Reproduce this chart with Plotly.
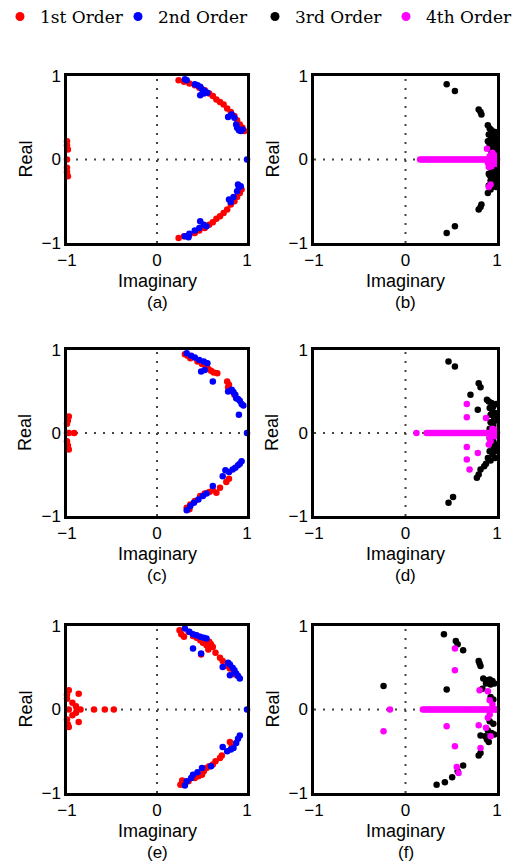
import plotly.graph_objects as go

# ---------------- data (Imaginary = x, Real = y) ----------------
series_names = ["1st Order", "2nd Order", "3rd Order", "4th Order"]
series_colors = ["#ff0000", "#0000ff", "#000000", "#ff00ff"]
panel_labels = ["(a)", "(b)", "(c)", "(d)", "(e)", "(f)"]
tick_vals = [-1, 0, 1]

# panel (a)
a_red_x = [0.24, 0.30, 0.36, 0.42, 0.47, 0.53, 0.58, 0.62, 0.66, 0.70, 0.74, 0.78, 0.82, 0.86, 0.89, 0.92, 0.95, 0.97,
           -1.0, -1.0, -0.99, -1.0, -1.0, -1.0, -0.99,
           0.24, 0.30, 0.36, 0.42, 0.47, 0.53, 0.58, 0.62, 0.66, 0.70, 0.74, 0.78, 0.82, 0.86, 0.89, 0.92, 0.94]
a_red_y = [0.95, 0.93, 0.91, 0.89, 0.86, 0.83, 0.79, 0.76, 0.72, 0.69, 0.66, 0.61, 0.57, 0.52, 0.47, 0.42, 0.38, 0.34,
           0.22, 0.17, 0.12, 0.0, -0.10, -0.15, -0.20,
           -0.94, -0.92, -0.90, -0.88, -0.85, -0.82, -0.78, -0.75, -0.71, -0.68, -0.64, -0.60, -0.54, -0.50, -0.45, -0.40, -0.36]
a_blue_x = [0.31, 0.33, 0.42, 0.45, 0.48, 0.50, 0.53, 0.56, 0.48, 0.52, 0.79, 0.83, 0.86, 0.88, 0.89, 0.91, 0.93, 0.95, 1.0,
            0.90, 0.91, 0.93, 0.89, 0.85, 0.80, 0.82, 0.55, 0.52, 0.48, 0.47, 0.42, 0.36, 0.31, 0.35]
a_blue_y = [0.96, 0.95, 0.90, 0.89, 0.87, 0.84, 0.82, 0.80, 0.77, 0.79, 0.51, 0.54, 0.50, 0.42, 0.38, 0.35, 0.34, 0.36, 0.0,
            -0.30, -0.33, -0.32, -0.38, -0.45, -0.48, -0.51, -0.80, -0.78, -0.74, -0.82, -0.85, -0.89, -0.92, -0.93]

# panel (b)
b_black_x = [0.45, 0.54, 0.80, 0.82, 0.83, 0.90, 0.92, 0.94, 0.96, 0.91, 0.95, 0.93, 0.97, 0.92, 0.96, 0.94, 0.97, 0.93,
             0.98, 0.99, 0.98, 0.90, 0.99, 0.97, 0.99, 0.98, 0.91, 0.99, 0.98,
             0.93, 0.97, 0.94, 0.96, 0.92, 0.97, 0.93, 0.95, 0.91, 0.96, 0.93, 0.90, 0.83, 0.82, 0.80, 0.54, 0.45]
b_black_y = [0.90, 0.82, 0.60, 0.57, 0.54, 0.41, 0.37, 0.35, 0.31, 0.30, 0.27, 0.24, 0.22, 0.18, 0.15, 0.10, 0.07, 0.04,
             0.33, 0.26, 0.19, 0.22, 0.12, -0.12, -0.18, -0.26, -0.17, -0.33, -0.08,
             -0.04, -0.07, -0.11, -0.15, -0.19, -0.22, -0.25, -0.28, -0.31, -0.32, -0.36, -0.40, -0.54, -0.57, -0.60, -0.80, -0.88]
b_mag_x = [0.16, 0.18, 0.20, 0.22, 0.24, 0.26, 0.28, 0.30, 0.32, 0.34, 0.36, 0.38, 0.40, 0.42, 0.44, 0.46, 0.48, 0.50,
           0.52, 0.54, 0.56, 0.58, 0.60, 0.62, 0.64, 0.66, 0.68, 0.70, 0.72, 0.74, 0.76, 0.78, 0.80, 0.82, 0.84,
           0.86, 0.88, 0.90, 0.92, 0.94, 0.96, 0.98, 1.0,
           0.92, 0.96, 0.98, 0.90, 0.89, 0.91, 0.93, 0.91, 0.94, 0.97, 0.95, 0.99]
b_mag_y = [0.0] * 43 + [0.04, 0.03, -0.03, -0.04, 0.13, -0.09, -0.30, -0.33, -0.08, 0.05, 0.08, -0.05]

# panel (c)
c_red_x = [-0.98, -0.99, -1.0, -1.0, -0.98, -0.92, -1.0, -0.99, -0.98,
           0.31, 0.34, 0.37, 0.45, 0.50, 0.55, 0.57, 0.60, 0.63, 0.67, 0.78, 0.80, 0.79, 0.84, 0.86,
           0.77, 0.80, 0.70, 0.66, 0.62, 0.58, 0.53, 0.48, 0.42, 0.37, 0.33, 0.36]
c_red_y = [0.20, 0.15, 0.11, 0.0, 0.0, 0.0, -0.10, -0.15, -0.20,
           0.95, 0.93, 0.90, 0.86, 0.83, 0.79, 0.77, 0.75, 0.73, 0.72, 0.62, 0.58, 0.55, 0.50, 0.46,
           -0.59, -0.55, -0.66, -0.72, -0.69, -0.71, -0.73, -0.76, -0.82, -0.86, -0.90, -0.92]
c_blue_x = [0.33, 0.38, 0.42, 0.47, 0.52, 0.56, 0.49, 0.53, 0.62, 0.79, 0.83, 0.85, 0.87, 0.88, 0.90, 0.92, 0.94, 0.96, 0.91, 1.0,
            0.94, 0.92, 0.90, 0.87, 0.84, 0.80, 0.76, 0.73, 0.62, 0.55, 0.51, 0.46, 0.41, 0.37, 0.33]
c_blue_y = [0.96, 0.93, 0.91, 0.88, 0.86, 0.84, 0.74, 0.76, 0.62, 0.50, 0.52, 0.49, 0.46, 0.42, 0.41, 0.39, 0.35, 0.33, 0.22, 0.0,
            -0.34, -0.37, -0.39, -0.42, -0.44, -0.47, -0.45, -0.52, -0.64, -0.73, -0.76, -0.80, -0.84, -0.88, -0.93]

# panel (d)
d_black_x = [0.47, 0.54, 0.80, 0.82, 0.71, 0.79, 0.89, 0.91, 0.94, 0.96, 0.92, 0.95, 0.93, 0.97, 0.93, 0.96, 0.92,
             0.99, 0.98, 0.99, 0.98, 0.99, 0.98,
             0.92, 0.96, 0.93, 0.97, 0.92, 0.95, 0.90, 0.93, 0.88, 0.86, 0.82, 0.80, 0.78, 0.52, 0.47]
d_black_y = [0.86, 0.80, 0.60, 0.55, 0.46, 0.28, 0.40, 0.38, 0.36, 0.32, 0.30, 0.26, 0.22, 0.18, 0.13, 0.09, 0.05,
             0.35, 0.24, 0.15, -0.14, -0.22, -0.30,
             -0.06, -0.10, -0.14, -0.18, -0.22, -0.26, -0.30, -0.33, -0.37, -0.40, -0.44, -0.50, -0.54, -0.77, -0.84]
d_mag_x = [0.67, 0.67, 0.88, 0.12, 0.67, 0.79, 0.67, 0.70, 0.91, 0.93, 0.95, 0.92, 0.97, 0.98,
           0.23, 0.25, 0.27, 0.29, 0.31, 0.33, 0.35, 0.37, 0.39, 0.41, 0.43, 0.45, 0.47, 0.49, 0.51, 0.53,
           0.55, 0.57, 0.59, 0.61, 0.63, 0.65, 0.67, 0.69, 0.71, 0.73, 0.75, 0.77, 0.79, 0.81, 0.83, 0.85,
           0.87, 0.89, 0.91, 0.93, 0.95, 0.97, 0.99, 1.0]
d_mag_y = [0.35, 0.19, 0.18, 0.0, -0.17, -0.24, -0.32, -0.44, -0.14, -0.10, 0.05, -0.05, 0.04, -0.04] + [0.0] * 40

# panel (e)
e_red_x = [-0.98, -1.0, -0.87, -1.0, -0.94, -0.90, -0.98, -0.89, -0.85, -0.70, -0.58, -0.48, -0.94, -0.90, -1.0, -0.87, -0.99, -0.98,
           0.25, 0.27, 0.30, 0.35, 0.40, 0.44, 0.48, 0.51, 0.55, 0.58, 0.60, 0.62, 0.57, 0.49, 0.65, 0.70, 0.73, 0.78, 0.81, 0.85, 0.87,
           0.81, 0.83, 0.72, 0.70, 0.65, 0.62, 0.58, 0.55, 0.52, 0.50, 0.46, 0.42, 0.35, 0.30, 0.26, 0.28]
e_red_y = [0.23, 0.18, 0.19, 0.13, 0.08, 0.04, 0.0, 0.0, 0.0, 0.0, 0.0, 0.0, -0.07, -0.04, -0.12, -0.15, -0.18, -0.21,
           0.95, 0.90, 0.87, 0.93, 0.88, 0.86, 0.83, 0.80, 0.77, 0.81, 0.78, 0.75, 0.72, 0.66, 0.68, 0.62, 0.58, 0.52, 0.49, 0.45, 0.42,
           -0.39, -0.45, -0.55, -0.58, -0.62, -0.66, -0.68, -0.70, -0.74, -0.78, -0.80, -0.82, -0.86, -0.88, -0.90, -0.85]
e_blue_x = [0.31, 0.36, 0.40, 0.44, 0.48, 0.52, 0.55, 0.40, 0.49, 0.73, 0.79, 0.81, 0.84, 0.86, 0.88, 0.90, 0.92, 0.81, 1.0,
            0.92, 0.90, 0.88, 0.85, 0.82, 0.73, 0.78, 0.60, 0.50, 0.45, 0.40, 0.38, 0.33, 0.31]
e_blue_y = [0.97, 0.93, 0.90, 0.89, 0.87, 0.86, 0.85, 0.73, 0.67, 0.51, 0.56, 0.54, 0.50, 0.47, 0.43, 0.40, 0.37, 0.41, 0.0,
            -0.31, -0.35, -0.40, -0.46, -0.48, -0.45, -0.50, -0.68, -0.70, -0.75, -0.78, -0.82, -0.86, -0.91]

# panel (f)
f_black_x = [0.42, 0.55, 0.57, 0.63, 0.80, 0.81, 0.82, 0.45, -0.24, 0.85, 0.88, 0.92, 0.95, 0.88, 0.93, 0.97, 0.84, 0.93, 0.96,
             0.92, 0.96, 0.90, 0.94, 0.97, 0.87, 0.82, 0.89, 0.91, 0.82, 0.80, 0.63, 0.57, 0.51, 0.43, 0.34]
f_black_y = [0.90, 0.82, 0.78, 0.71, 0.58, 0.55, 0.52, 0.24, 0.28, 0.37, 0.35, 0.36, 0.34, 0.31, 0.30, 0.31, 0.25, 0.15, 0.12,
             -0.14, -0.17, -0.25, -0.28, -0.30, -0.32, -0.31, -0.36, -0.39, -0.52, -0.55, -0.67, -0.74, -0.81, -0.87, -0.90]
f_mag_x = [0.54, 0.54, 0.81, 0.90, 0.92, 0.95, -0.17, -0.24, 0.45, 0.54, 0.56, 0.58, 0.80, 0.82, 0.90, 0.92, 0.93, 0.88,
           0.19, 0.21, 0.23, 0.25, 0.27, 0.29, 0.31, 0.33, 0.35, 0.37, 0.39, 0.41, 0.43, 0.45, 0.47, 0.49, 0.51,
           0.53, 0.55, 0.57, 0.59, 0.61, 0.63, 0.65, 0.67, 0.69, 0.71, 0.73, 0.75, 0.77, 0.79, 0.81, 0.83, 0.85,
           0.87, 0.89, 0.91, 0.93, 0.95, 0.97, 0.99, 1.0]
f_mag_y = [0.73, 0.47, 0.23, 0.22, 0.11, 0.06, 0.0, -0.26, -0.20, -0.44, -0.69, -0.76, -0.19, -0.46, -0.10, -0.06, -0.32, -0.22] + [0.0] * 42

panels = [
    [("1st Order", a_red_x, a_red_y), ("2nd Order", a_blue_x, a_blue_y)],
    [("3rd Order", b_black_x, b_black_y), ("4th Order", b_mag_x, b_mag_y)],
    [("1st Order", c_red_x, c_red_y), ("2nd Order", c_blue_x, c_blue_y)],
    [("3rd Order", d_black_x, d_black_y), ("4th Order", d_mag_x, d_mag_y)],
    [("1st Order", e_red_x, e_red_y), ("2nd Order", e_blue_x, e_blue_y)],
    [("3rd Order", f_black_x, f_black_y), ("4th Order", f_mag_x, f_mag_y)],
]

# ---------------- layout geometry (pixels) ----------------
W, H = 517, 866
cols = [(67, 247), (314, 497)]
rows = [(76, 243), (350, 516), (626, 793)]
legend_px = [0, 118, 255, 386]
color_of = dict(zip(series_names, series_colors))

fig = go.Figure()
layout = dict(width=W, height=H, margin=dict(l=0, r=0, t=0, b=0, autoexpand=False),
              paper_bgcolor="white", plot_bgcolor="white", showlegend=True)
shapes, annotations = [], []
sans = "Liberation Sans, Arial, sans-serif"

for i, traces in enumerate(panels):
    r, c = divmod(i, 2)
    (xl, xr), (yt, yb) = cols[c], rows[r]
    n = "" if i == 0 else str(i + 1)
    xa, ya = "x" + n, "y" + n
    axcommon = dict(range=[-1, 1], tickvals=tick_vals, showgrid=False, zeroline=False,
                    showline=True, mirror=True, linecolor="black", linewidth=2.5,
                    ticks="", tickfont=dict(family=sans, size=17, color="black"), fixedrange=True)
    layout["xaxis" + n] = dict(axcommon, domain=[xl / W, xr / W], anchor=ya)
    layout["yaxis" + n] = dict(axcommon, domain=[1 - yb / H, 1 - yt / H], anchor=xa)
    for name, xs, ys in traces:
        fig.add_trace(go.Scatter(x=xs, y=ys, mode="markers", name=name, showlegend=False,
                                 marker=dict(size=6.5, color=color_of[name]),
                                 cliponaxis=False, xaxis=xa, yaxis=ya))
    dot = dict(color="#444444", width=2, dash="2px,7px")
    shapes.append(dict(type="line", xref=xa, yref=ya, x0=0, x1=0, y0=-1, y1=1, line=dot, layer="below"))
    shapes.append(dict(type="line", xref=xa, yref=ya, x0=-1, x1=1, y0=0, y1=0, line=dot, layer="below"))
    xc = (xl + xr) / 2 / W
    annotations.append(dict(text="Imaginary", xref="paper", yref="paper", x=xc, y=1 - (yb + 38) / H,
                            showarrow=False, font=dict(family=sans, size=18, color="black"),
                            xanchor="center", yanchor="middle"))
    annotations.append(dict(text=panel_labels[i], xref="paper", yref="paper", x=xc, y=1 - (yb + 59) / H,
                            showarrow=False, font=dict(family=sans, size=17, color="black"),
                            xanchor="center", yanchor="middle"))
    annotations.append(dict(text="Real", xref="paper", yref="paper", x=(xl - 42) / W, y=1 - (yt + yb) / 2 / H,
                            showarrow=False, textangle=-90, font=dict(family=sans, size=18, color="black"),
                            xanchor="center", yanchor="middle"))

# legend entries, one small legend per series so each sits where the reference puts it
for k, (name, col) in enumerate(zip(series_names, series_colors)):
    lid = "legend" if k == 0 else "legend%d" % (k + 1)
    fig.add_trace(go.Scatter(x=[None], y=[None], mode="markers", name=name, legend=lid,
                             marker=dict(size=9, color=col), showlegend=True))
    layout[lid] = dict(orientation="h", x=legend_px[k] / W, xanchor="left", y=1 - 17 / H, yanchor="middle",
                       font=dict(family="DejaVu Serif, serif", size=17, color="black"),
                       itemclick=False, bgcolor="rgba(0,0,0,0)")

layout["shapes"] = shapes
layout["annotations"] = annotations
fig.update_layout(**layout)
fig.write_html("out.html")
